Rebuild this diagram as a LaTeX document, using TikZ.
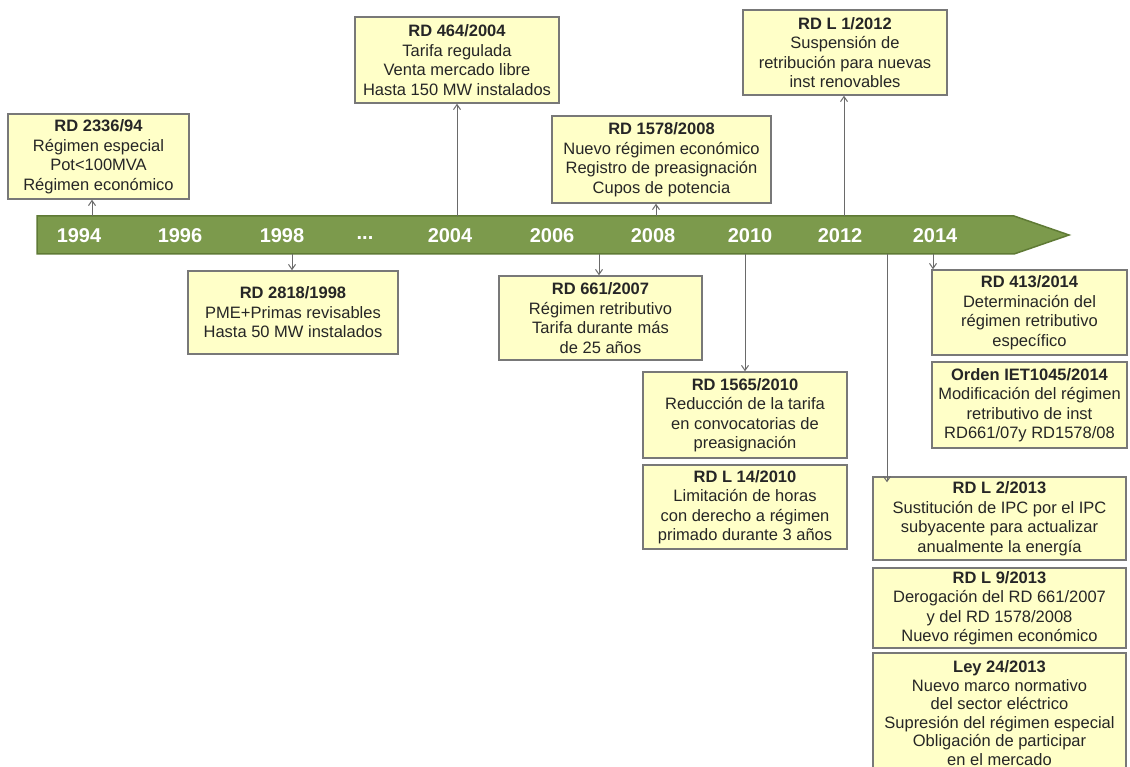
\documentclass[tikz,border=0pt]{standalone}
\usepackage{fontspec}
\setmainfont{Liberation Sans}
\usetikzlibrary{arrows.meta}
\definecolor{bargreen}{HTML}{7C9A4C}
\definecolor{bardark}{HTML}{5F7A35}
\definecolor{boxfill}{HTML}{FFFFC8}
\definecolor{boxline}{HTML}{787878}
\definecolor{arrgray}{HTML}{6A6A6A}
\definecolor{txt}{HTML}{262626}
\tikzset{
  box/.style 2 args={draw=boxline, fill=boxfill, line width=1.5pt, inner sep=0pt,
    minimum width=#1pt, minimum height=#2pt, align=center, text=txt,
    font=\fontsize{16.5}{19.5}\selectfont},
  year/.style={text=white, font=\fontsize{20}{24}\selectfont\bfseries},
  conn/.style={draw=arrgray, line width=1pt, -{Straight Barb[length=5pt,width=7pt]}}
}
\begin{document}
\begin{tikzpicture}[x=1pt,y=-1pt]
\clip (0,0) rectangle (1130,767);
\fill[white] (0,0) rectangle (1130,767);
% timeline bar
\draw[fill=bargreen, draw=bardark, line width=1.5pt]
  (37,216) -- (1014,216) -- (1069,235) -- (1014,254) -- (37,254) -- cycle;
\node[year] (y94) at (79,236) {1994};
\node[year] (y96) at (180,236) {1996};
\node[year] (y98) at (282,236) {1998};
\node[year] (ydots) at (365,238) {...};
\node[year] (y04) at (450,236) {2004};
\node[year] (y06) at (552,236) {2006};
\node[year] (y08) at (653,236) {2008};
\node[year] (y10) at (750,236) {2010};
\node[year] (y12) at (840,236) {2012};
\node[year] (y14) at (935,236) {2014};
% anchor points on the bar
\coordinate (pA) at (92,216);
\coordinate (pB) at (457,216);
\coordinate (pC) at (656,216);
\coordinate (pD) at (844,216);
\coordinate (pE) at (292,254);
\coordinate (pF) at (599,254);
\coordinate (pG) at (745,254);
\coordinate (pI) at (933,254);
\coordinate (pK) at (887,254);
% boxes above
\node[box={181}{85}] (A) at (98.5,156.5) {\textbf{RD 2336/94}\\Régimen especial\\Pot<100MVA\\Régimen económico};
\node[box={204}{86}] (B) at (457,60) {\textbf{RD 464/2004}\\Tarifa regulada\\Venta mercado libre\\Hasta 150 MW instalados};
\node[box={219}{87}] (C) at (661.5,159.5) {\textbf{RD 1578/2008}\\Nuevo régimen económico\\Registro de preasignación\\Cupos de potencia};
\node[box={204}{85}] (D) at (845,52.5) {\textbf{RD L 1/2012}\\Suspensión de\\retribución para nuevas\\inst renovables};
% boxes below
\node[box={210}{83}] (E) at (293,312.5) {\textbf{RD 2818/1998}\\PME+Primas revisables\\Hasta 50 MW instalados};
\node[box={203}{84}] (F) at (600.5,318) {\textbf{RD 661/2007}\\Régimen retributivo\\Tarifa durante más\\de 25 años};
\node[box={204}{86}] (G) at (745,415) {\textbf{RD 1565/2010}\\Reducción de la tarifa\\en convocatorias de\\preasignación};
\node[box={204}{84}] (H) at (745,507) {\textbf{RD L 14/2010}\\Limitación de horas\\con derecho a régimen\\primado durante 3 años};
\node[box={195}{85}] (I) at (1029.5,312.5) {\textbf{RD 413/2014}\\Determinación del\\régimen retributivo\\específico};
\node[box={195}{86}] (J) at (1029.5,405) {\textbf{Orden IET1045/2014}\\Modificación del régimen\\retributivo de inst\\RD661/07y RD1578/08};
\node[box={253}{83}] (K) at (999.5,518.5) {\textbf{RD L 2/2013}\\Sustitución de IPC por el IPC\\subyacente para actualizar\\anualmente la energía};
\node[box={253}{80}] (L) at (999.5,608) {\textbf{RD L 9/2013}\\Derogación del RD 661/2007\\y del RD 1578/2008\\Nuevo régimen económico};
\node[box={253}{120}, font=\fontsize{16.5}{18.6}\selectfont] (M) at (999.5,713) {\textbf{Ley 24/2013}\\Nuevo marco normativo\\del sector eléctrico\\Supresión del régimen especial\\Obligación de participar\\en el mercado};
% connectors
\draw[conn] (pA) -- (pA |- A.south);
\draw[conn] (pB) -- (pB |- B.south);
\draw[conn] (pC) -- (pC |- C.south);
\draw[conn] (pD) -- (pD |- D.south);
\draw[conn] (pE) -- (pE |- E.north);
\draw[conn] (pF) -- (pF |- F.north);
\draw[conn] (pG) -- (pG |- G.north);
\draw[conn] (pI) -- (pI |- I.north);
\draw[conn] (pK) -- ([yshift=-6pt]pK |- K.north);
\end{tikzpicture}
\end{document}
